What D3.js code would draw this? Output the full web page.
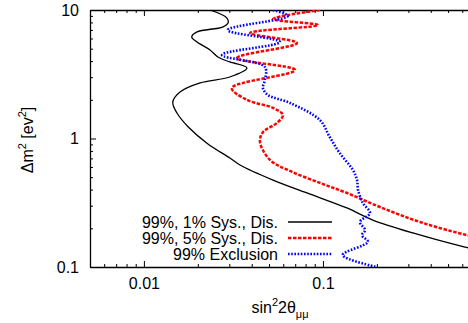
<!DOCTYPE html>
<html>
<head>
<meta charset="utf-8">
<script src="https://cdn.jsdelivr.net/npm/d3@7"></script>
<style>
  body { margin: 0; background: #fff; }
  svg { display: block; font-family: "Liberation Sans", Arial, sans-serif; }
</style>
</head>
<body>
<div id="chart"></div>
<script>
// curves as [sin^2 2theta, dm^2]
const sys1 = [[0.0234,10],[0.0291,8.66],[0.0295,7.92],[0.0275,7.37],[0.0198,6.75],[0.0185,6.17],[0.0198,5.64],
  [0.0234,4.89],[0.0259,4.31],[0.0302,3.94],[0.0376,3.54],[0.0302,3.01],[0.0206,2.71],[0.0159,2.30],
  [0.0145,1.92],[0.0153,1.58],[0.0177,1.23],[0.0225,0.92],[0.0302,0.705],[0.0344,0.622],[0.0526,0.475],
  [0.0814,0.377],[0.136,0.288],[0.19,0.232],[0.318,0.184],[0.621,0.143],[1.0,0.125]];
const sys5 = [[0.0962,10],[0.0526,8.51],[0.0938,7.64],[0.0391,6.62],[0.0716,5.53],[0.0331,4.23],[0.0698,3.41],
  [0.0310,2.47],[0.0376,2.0],[0.0526,1.73],[0.0598,1.52],[0.0553,1.32],[0.0462,1.12],[0.0445,0.94],
  [0.0506,0.681],[0.0655,0.559],[0.0962,0.451],[0.136,0.377],[0.208,0.293],[0.348,0.224],[0.637,0.177],[1.0,0.155]];
const excl = [[0.0526,10],[0.0637,8.98],[0.0294,6.98],[0.0575,5.64],[0.0273,4.47],[0.0474,3.60],[0.0474,2.85],
  [0.0462,2.47],[0.0493,2.18],[0.0655,1.89],[0.0962,1.39],[0.109,1.03],[0.124,0.771],[0.147,0.569],
  [0.155,0.475],[0.157,0.397],[0.167,0.315],[0.183,0.263],[0.161,0.224],[0.172,0.194],[0.165,0.177],
  [0.178,0.157],[0.129,0.124],[0.2,0.1]];
const legendLabels = ["99%, 1% Sys., Dis.", "99%, 5% Sys., Dis.", "99% Exclusion"];
const xTicks = [0.01, 0.1];
const yTicks = [0.1, 1, 10];

const width = 468, height = 323;
const margin = {top: 10, right: -34, bottom: 56, left: 90};

const svg = d3.select("#chart").append("svg")
    .attr("width", width)
    .attr("height", height);

// x axis runs past the right edge of the picture
const x = d3.scaleLog().domain([0.005, 1]).range([margin.left, width - margin.right]);
const y = d3.scaleLog().domain([0.1, 10]).range([height - margin.bottom, margin.top]);

const minorX = [], minorY = [];
[0.001, 0.01, 0.1].forEach(b => { for (let k = 2; k <= 9; k++) { const v = b * k; if (v > 0.005 && v < 1) minorX.push(v); } });
[0.1, 1].forEach(b => { for (let k = 2; k <= 9; k++) minorY.push(b * k); });

svg.append("clipPath").attr("id", "plot")
  .append("rect")
    .attr("x", margin.left).attr("y", margin.top)
    .attr("width", width - margin.left).attr("height", y(0.1) - margin.top);

function styleAxis(g) {
    g.selectAll("path").attr("stroke", "#000").attr("stroke-width", 1.3);
    g.selectAll("line").attr("stroke", "#000");
    g.selectAll("text").style("font-size", "16px").attr("fill", "#000")
        .style("font-family", "'Liberation Sans', Arial, sans-serif");
}

// bottom
svg.append("g")
    .attr("transform", `translate(0,${y(0.1)})`)
    .call(d3.axisBottom(x).tickValues(xTicks).tickSizeInner(-6).tickSizeOuter(0).tickPadding(11)
        .tickFormat(d3.format("")))
    .call(styleAxis);
svg.append("g")
    .attr("transform", `translate(0,${y(0.1)})`)
    .call(d3.axisBottom(x).tickValues(minorX).tickSize(-3).tickFormat(""))
    .call(g => g.select(".domain").remove())
    .call(styleAxis);
// top
svg.append("g")
    .attr("transform", `translate(0,${y(10)})`)
    .call(d3.axisTop(x).tickValues(xTicks).tickSizeInner(-6).tickSizeOuter(0).tickFormat(""))
    .call(styleAxis);
svg.append("g")
    .attr("transform", `translate(0,${y(10)})`)
    .call(d3.axisTop(x).tickValues(minorX).tickSize(-3).tickFormat(""))
    .call(g => g.select(".domain").remove())
    .call(styleAxis);
// left
svg.append("g")
    .attr("transform", `translate(${margin.left},0)`)
    .call(d3.axisLeft(y).tickValues(yTicks).tickSizeInner(-6).tickSizeOuter(0).tickPadding(11)
        .tickFormat(d3.format("")))
    .call(styleAxis);
svg.append("g")
    .attr("transform", `translate(${margin.left},0)`)
    .call(d3.axisLeft(y).tickValues(minorY).tickSize(-3).tickFormat(""))
    .call(g => g.select(".domain").remove())
    .call(styleAxis);

const line = d3.line()
    .x(d => x(d[0]))
    .y(d => y(d[1]))
    .curve(d3.curveCatmullRom.alpha(0.5));

const series = [
    {data: sys1, color: "#000000", w: 1.3, dash: null},
    {data: sys5, color: "#ff0000", w: 2.5, dash: "3.5,1.5"},
    {data: excl, color: "#0000ff", w: 2.6, dash: "1.6,1.6"}
];

const plot = svg.append("g").attr("clip-path", "url(#plot)");
plot.selectAll("path.curve")
    .data(series)
    .join("path")
    .attr("class", "curve")
    .attr("d", d => line(d.data))
    .attr("fill", "none")
    .attr("stroke", d => d.color)
    .attr("stroke-width", d => d.w)
    .attr("stroke-dasharray", d => d.dash);

// legend
const legend = svg.append("g");
legendLabels.forEach((lab, i) => {
    const ly = 222 + i * 16;
    legend.append("text")
        .attr("x", 278).attr("y", ly)
        .attr("dy", "0.35em")
        .attr("text-anchor", "end")
        .style("font-size", "16px")
        .text(lab);
    legend.append("line")
        .attr("x1", 288).attr("x2", 332)
        .attr("y1", ly).attr("y2", ly)
        .attr("stroke", series[i].color)
        .attr("stroke-width", series[i].w)
        .attr("stroke-dasharray", series[i].dash);
});

// axis titles
const xt = svg.append("text")
    .attr("x", 280).attr("y", 313)
    .attr("text-anchor", "middle")
    .style("font-size", "16px");
xt.append("tspan").text("sin");
xt.append("tspan").attr("dy", -7).style("font-size", "11px").text("2");
xt.append("tspan").attr("dy", 7).text("2θ");
xt.append("tspan").attr("dy", 5).style("font-size", "11px").text("μμ");

const yt = svg.append("text")
    .attr("transform", "translate(33,140) rotate(-90)")
    .attr("text-anchor", "middle")
    .style("font-size", "16px");
yt.append("tspan").text("Δm");
yt.append("tspan").attr("dy", -7).style("font-size", "11px").text("2");
yt.append("tspan").attr("dy", 7).text(" [ev");
yt.append("tspan").attr("dy", -7).style("font-size", "11px").text("2");
yt.append("tspan").attr("dy", 7).text("]");
</script>
</body>
</html>
